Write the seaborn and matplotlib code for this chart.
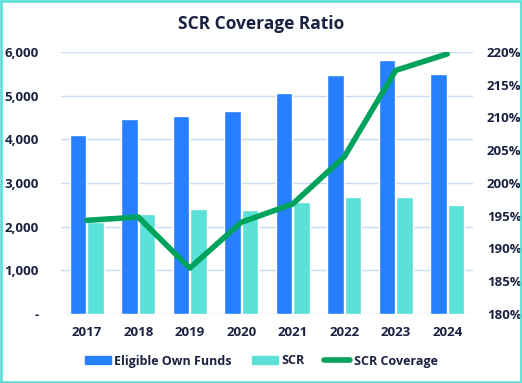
import pandas as pd
import seaborn as sns
import numpy as np
import matplotlib.pyplot as plt
from matplotlib.patches import Rectangle
from matplotlib.ticker import FuncFormatter

years = ["2017", "2018", "2019", "2020", "2021", "2022", "2023", "2024"]
own_funds = [4090, 4470, 4530, 4640, 5050, 5475, 5815, 5495]
scr = [2100, 2295, 2410, 2385, 2570, 2685, 2670, 2500]
coverage = [194.3, 194.8, 187.0, 194.0, 196.8, 204.0, 217.2, 219.7]

c_eof = "#2680FF"
c_scr = "#5CE1D9"
c_line = "#00A35C"
c_text = "#1B2140"
c_grid = "#CBDAF5"

sns.set_style("white")
plt.rcParams["font.family"] = ["Open Sans", "DejaVu Sans"]

df = pd.DataFrame({
    "year": years * 2,
    "value": own_funds + scr,
    "series": ["Eligible Own Funds"] * len(years) + ["SCR"] * len(years),
})

fig = plt.figure(figsize=(5.22, 3.83), dpi=100)
ax = fig.add_axes([61 / 522, 1 - 314 / 383, (473 - 61) / 522, (314 - 52) / 383])

sns.barplot(data=df, x="year", y="value", hue="series", palette=[c_eof, c_scr],
            width=0.68, gap=0.03, ax=ax, legend=False, saturation=1)

ax.set_ylim(0, 6000)
ax.set_yticks(range(0, 6001, 1000))
ax.yaxis.set_major_formatter(FuncFormatter(lambda v, p: "-" if v == 0 else f"{v:,.0f}"))
ax.grid(axis="y", color=c_grid, lw=1)
ax.set_axisbelow(True)
for s in ax.spines.values():
    s.set_visible(False)
ax.set_xlabel("")
ax.set_ylabel("")
ax.tick_params(length=0, colors=c_text, labelsize=9.5)
ax.tick_params(axis="y", pad=16)
ax.tick_params(axis="x", pad=9)
for lab in ax.get_xticklabels() + ax.get_yticklabels():
    lab.set_fontweight("bold")

ax2 = ax.twinx()
sns.lineplot(x=np.arange(len(years)), y=coverage, color=c_line, lw=4, ax=ax2,
             solid_capstyle="round", solid_joinstyle="round")
ax2.set_ylim(180, 220)
ax2.set_yticks(range(180, 221, 5))
ax2.yaxis.set_major_formatter(FuncFormatter(lambda v, p: f"{v:.0f}%"))
for s in ax2.spines.values():
    s.set_visible(False)
ax2.tick_params(length=0, colors=c_text, labelsize=9.5, pad=10)
for lab in ax2.get_yticklabels():
    lab.set_fontweight("bold")
ax.set_xlim(-0.5, len(years) - 0.5)

handles = [
    Rectangle((0, 0), 1, 1, color=c_eof),
    Rectangle((0, 0), 1, 1, color=c_scr),
    plt.Line2D([], [], color=c_line, lw=4, solid_capstyle="round"),
]
fig.legend(handles, ["Eligible Own Funds", "SCR", "SCR Coverage"], loc="center",
           bbox_to_anchor=(0.5, 1 - 361 / 383), ncol=3, frameon=False,
           handlelength=2.1, handleheight=0.6, columnspacing=1.6, handletextpad=0.25,
           prop={"size": 9, "weight": "bold"}, labelcolor=c_text)

fig.text(0.5, 1 - 24 / 383, "SCR Coverage Ratio", ha="center", va="center",
         fontsize=12.5, fontweight="bold", color=c_text)

fig.patches.append(Rectangle((0.002, 0.003), 0.996, 0.994, transform=fig.transFigure,
                             fill=False, edgecolor="#5EE0D8", lw=2))

fig.savefig("out.png", dpi=100, facecolor="white")
